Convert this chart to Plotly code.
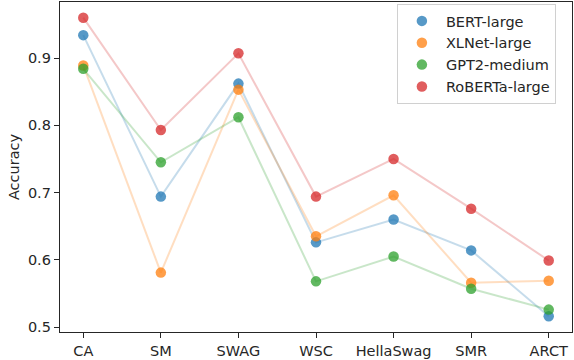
import plotly.graph_objects as go

categories = ["CA", "SM", "SWAG", "WSC", "HellaSwag", "SMR", "ARCT"]
models = ["BERT-large", "XLNet-large", "GPT2-medium", "RoBERTa-large"]
bert = [0.934, 0.694, 0.862, 0.626, 0.660, 0.614, 0.516]
xlnet = [0.889, 0.581, 0.853, 0.635, 0.696, 0.566, 0.569]
gpt2 = [0.884, 0.745, 0.812, 0.568, 0.605, 0.557, 0.526]
roberta = [0.960, 0.793, 0.907, 0.694, 0.750, 0.676, 0.599]
y_ticks = [0.5, 0.6, 0.7, 0.8, 0.9]

series = [bert, xlnet, gpt2, roberta]
colors = ["#1f77b4", "#ff7f0e", "#2ca02c", "#d62728"]
xs = list(range(len(categories)))

fig = go.Figure()
for name, vals, c in zip(models, series, colors):
    fig.add_trace(go.Scatter(x=xs, y=vals, mode="lines", line=dict(color=c, width=2),
                             opacity=0.25, showlegend=False, hoverinfo="skip"))
    fig.add_trace(go.Scatter(x=xs, y=vals, mode="markers", name=name,
                             marker=dict(color=c, size=10.5, opacity=0.75, line=dict(width=0)),
                             legendgroup=name))

font = "DejaVu Sans, sans-serif"
fs = 14.5
axis_common = dict(showline=True, linecolor="#262626", linewidth=1.3, mirror=True,
                   ticks="outside", ticklen=5, tickwidth=1.2, tickcolor="#262626",
                   showgrid=False, zeroline=False,
                   tickfont=dict(family=font, size=fs, color="#262626"))
fig.update_layout(
    width=574, height=360,
    margin=dict(l=60, r=2, t=1, b=27),
    plot_bgcolor="white", paper_bgcolor="white",
    xaxis=dict(tickmode="array", tickvals=xs, ticktext=categories, range=[-0.3, 6.3], **axis_common),
    yaxis=dict(tickmode="array", tickvals=y_ticks, ticktext=[f"{v:.1f}" for v in y_ticks],
               range=[0.4927, 0.9833],
               title=dict(text="Accuracy", font=dict(family=font, size=fs, color="#262626"), standoff=4),
               **axis_common),
    legend=dict(x=0.658, y=0.994, xanchor="left", yanchor="top", itemwidth=38,
                bgcolor="rgba(255,255,255,0.8)", bordercolor="#d0d0d0", borderwidth=1,
                font=dict(family=font, size=fs, color="#262626"), tracegroupgap=0),
    showlegend=True,
)
fig.write_html("out.html", config={"displayModeBar": False},
               post_script="document.body.style.margin='0';")
